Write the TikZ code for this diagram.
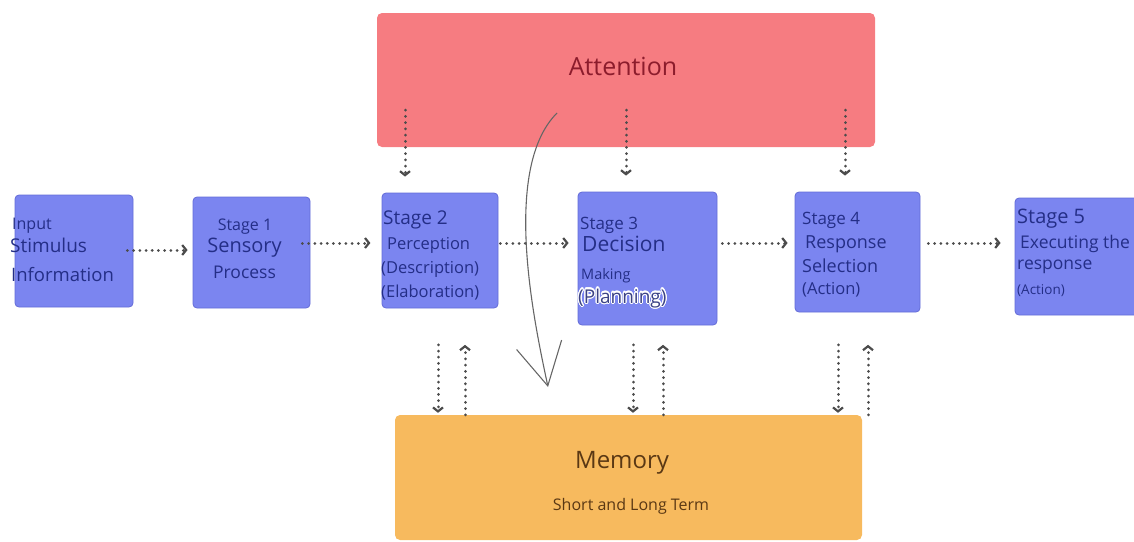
\documentclass[tikz,border=0pt]{standalone}
\usepackage{fontspec}
\setmainfont{Open Sans}
\usepackage{contour}
\contourlength{1.1pt}
\usetikzlibrary{arrows.meta,calc}
\definecolor{boxblue}{RGB}{123,133,240}
\definecolor{boxedge}{RGB}{100,108,215}
\definecolor{attred}{RGB}{246,124,129}
\definecolor{memorange}{RGB}{247,186,94}
\definecolor{navy}{RGB}{36,46,135}
\definecolor{attext}{RGB}{140,28,44}
\definecolor{memtext}{RGB}{90,56,20}
\newcommand\fsz[1]{\fontsize{#1}{#1}\selectfont}
\tikzset{
  stage/.style={fill=boxblue, draw=boxedge, line width=0.8pt, rounded corners=4pt, inner sep=0},
  lbl/.style={inner sep=0, anchor=base west, text=navy},
  flow/.style={draw=black!70, line width=3pt, line cap=round, dash pattern=on 0.01pt off 6.2pt,
    -{Straight Barb[length=4pt,width=10pt,line width=2.2pt]}},
  memlink/.style={draw=black!60, line width=1.1pt,
    -{Straight Barb[length=42pt,width=46pt,line width=1.1pt]}}
}
\begin{document}
\begin{tikzpicture}[x=1pt,y=-1pt]
\useasboundingbox (0,0) rectangle (1134,541);
% big boxes
\node[fill=attred, rounded corners=5pt, minimum width=498pt, minimum height=134pt] (att) at (626,80) {};
\node[fill=memorange, rounded corners=5pt, minimum width=467pt, minimum height=125pt] (mem) at (628.5,477.5) {};
% stages
\node[stage, minimum width=118pt, minimum height=112pt] (inp) at (74,251) {};
\node[stage, minimum width=117pt, minimum height=111pt] (st1) at (251.5,252.5) {};
\node[stage, minimum width=116pt, minimum height=115pt] (st2) at (440,250.5) {};
\node[stage, minimum width=139pt, minimum height=133pt] (st3) at (647.5,258.5) {};
\node[stage, minimum width=125pt, minimum height=120pt] (st4) at (857.5,252) {};
\node[stage, minimum width=126pt, minimum height=117pt] (st5) at (1078,256.5) {};
% texts
\node[inner sep=0, anchor=base, text=attext, font=\fsz{25}] (attlbl) at (623,75) {Attention};
\node[inner sep=0, anchor=base, text=memtext, font=\fsz{24}] (memlbl) at (622,468) {Memory};
\node[inner sep=0, anchor=base, text=memtext, font=\fsz{16}] (memsub) at (631,510) {Short and Long Term};
\foreach \n/\x/\y/\s/\t in {inp1/12/229/16/Input, inp2/10/252/19/Stimulus, inp3/11/281/18.5/Information,
    st2a/383/224/19/Stage 2, st2b/387/249/16.5/Perception, st2c/381/273/16.5/(Description), st2d/381/297/16.5/(Elaboration),
    st3a/580/229/17/Stage 3, st3b/582/251/21/Decision, st3c/581/279/14.5/Making,
    st4a/802/224/17/Stage 4, st4b/805/248/18/Response, st4c/802/272/18/Selection, st4d/802/294/16.5/(Action),
    st5a/1017/223/20/Stage 5, st5b/1020/248/17.5/Executing the, st5c/1017/269/17.5/response, st5d/1017/294/13.5/(Action)}
  \node[lbl, font=\fsz{\s}] (\n) at (\x,\y) {\t};
\node[lbl, font=\fsz{19}, text=navy!75!gray] (st3d) at (578,303) {\contour{white}{(Planning)}};
\node[lbl, anchor=base, font=\fsz{16}] (st1a) at (245,230) {Stage 1};
\node[lbl, anchor=base, font=\fsz{20}] (st1b) at (244.5,252) {Sensory};
\node[lbl, anchor=base, font=\fsz{17.5}] (st1c) at (244.5,278) {Process};
% flow between stages
\draw[flow] ($(inp.east |- 0,250)+(-6,0)$) -- ($(st1.west |- 0,250)+(-5,0)$);
\draw[flow] ($(st1.east |- 0,243)+(-8,0)$) -- ($(st1.east |- 0,243)+(60,0)$);
\draw[flow] ($(st2.east |- 0,243)+(2,0)$) -- ($(st3.west |- 0,243)+(-9,0)$);
\draw[flow] ($(st3.east |- 0,243)+(5,0)$) -- ($(st4.west |- 0,243)+(-7,0)$);
\draw[flow] ($(st4.east |- 0,243)+(8,0)$) -- ($(st5.west |- 0,243)+(-14,0)$);
% attention to stages
\foreach \x/\b in {405/st2, 626/st3, 845/st4}
  \draw[flow] ($(\x,0 |- att.south)+(0,-37)$) -- ($(\x,0 |- \b.north)+(0,-16)$);
% stages to and from memory
\foreach \x in {438, 633, 838}
  \draw[flow] ($(\x,0 |- mem.north)+(0,-70)$) -- ($(\x,0 |- mem.north)+(0,-2)$);
\foreach \x in {465, 663, 868}
  \draw[flow] ($(\x,0 |- mem.north)+(0,0)$) -- ($(\x,0 |- mem.north)+(0,-70)$);
% attention feeds memory
\coordinate (attsrc) at (557,113);
\coordinate (memdst) at (548,387);
\draw[memlink] (attsrc) .. controls (500,170) and (536,330) .. (memdst);
\end{tikzpicture}
\end{document}
